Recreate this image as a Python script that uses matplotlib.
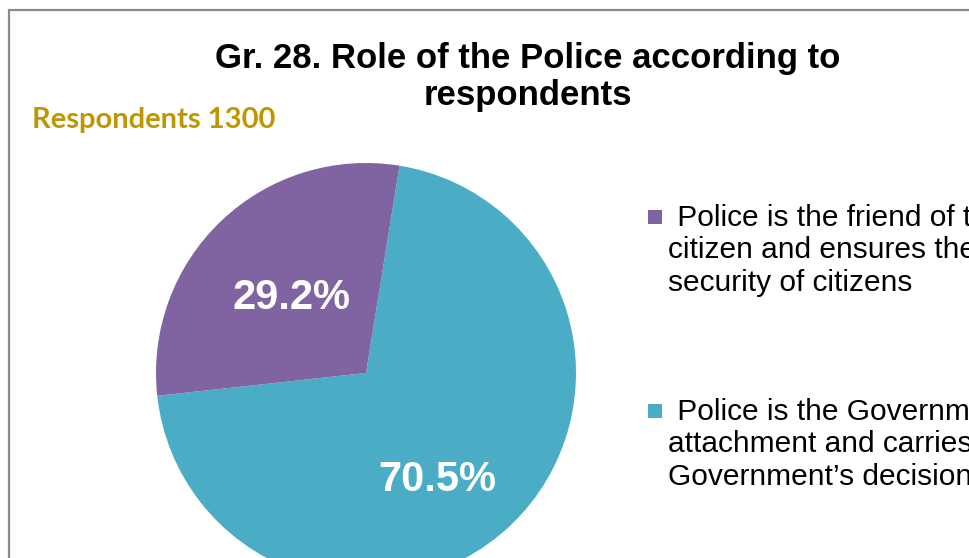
import matplotlib.pyplot as plt
from matplotlib.patches import Rectangle

# --- DATA ---
shares = [70.5, 29.2]   # % of respondents
colors = ['#4BACC6', '#8064A2']
legend_lines = [
    [" Police is the Government\u2019s", "attachment and carries out the", "Government\u2019s decisions"],
    [" Police is the friend of the", "citizen and ensures the", "security of citizens"],
]
legend_order = [1, 0]   # purple entry listed first
title_lines = ["Gr. 28. Role of the Police according to", "respondents"]
subtitle = "Respondents 1300"

W, H = 969, 558
fig = plt.figure(figsize=(W / 100, H / 100), dpi=100)


def fx(px):
    return px / W


def fy(py):
    return 1 - py / H


# chart frame (right and bottom edges run off the canvas)
fig.patches.append(Rectangle((fx(8.5), fy(1000)), fx(1200), fy(10) - fy(1000),
                             transform=fig.transFigure, fill=False,
                             edgecolor='#8a8a8a', linewidth=1.6))

# pie: centre (366, 373) px, radius 210 px
cx, cy, r = 366, 373, 210
ax = fig.add_axes([fx(cx - r), fy(cy + r), fx(2 * r), (2 * r) / H])
wedges, _ = ax.pie(shares, colors=colors, startangle=80.8, counterclock=False,
                   radius=1.0, wedgeprops=dict(linewidth=0))
ax.set_xlim(-1, 1)
ax.set_ylim(-1, 1)
ax.set_aspect('equal')
ax.axis('off')
for w in wedges:
    w.set_clip_on(False)

# percentage labels
label_pos = [(437, 480), (292, 298)]
for val, (px, py) in zip(shares, label_pos):
    fig.text(fx(px), fy(py), f"{val}%", ha='center', va='center', color='white',
             fontsize=30, fontweight='bold', family='Liberation Sans')

# title
for i, line in enumerate(title_lines):
    fig.text(fx(528), fy(68 + 37 * i), line, ha='center', va='baseline',
             fontsize=25, fontweight='bold', family='Liberation Sans', color='black')

fig.text(fx(32), fy(128), subtitle, ha='left', va='baseline', fontsize=21,
         fontweight='bold', family='Lato', color='#BF9600')

# legend
entry_top = [226, 420]
for k, idx in enumerate(legend_order):
    base = entry_top[k]
    fig.patches.append(Rectangle((fx(648), fy(base - 2)), fx(14), 14 / H,
                                 transform=fig.transFigure, facecolor=colors[idx],
                                 edgecolor='none'))
    for j, line in enumerate(legend_lines[idx]):
        x0 = 669 if j == 0 else 668
        fig.text(fx(x0), fy(base + 32.5 * j), line, ha='left', va='baseline',
                 fontsize=21.5, family='Liberation Sans', color='black')

fig.savefig('out.png', dpi=100)
